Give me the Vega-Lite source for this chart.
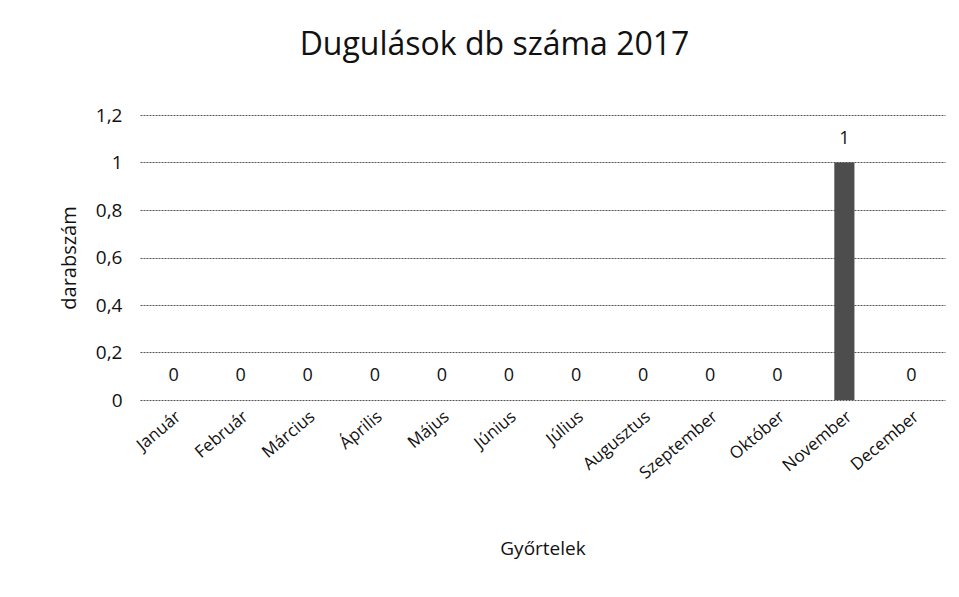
{
  "$schema": "https://vega.github.io/schema/vega-lite/v6.json",
  "autosize": "none",
  "width": 805,
  "height": 285,
  "padding": {"left": 140, "top": 115, "right": 14, "bottom": 197},
  "background": "white",
  "title": {"text": "Dugulások db száma 2017", "fontSize": 32, "font": "Open Sans", "fontWeight": "normal", "color": "#111", "offset": 44, "anchor": "middle", "dx": -48},
  "data": {"values": [
    {"honap": "Január", "db": 0},
    {"honap": "Február", "db": 0},
    {"honap": "Március", "db": 0},
    {"honap": "Április", "db": 0},
    {"honap": "Május", "db": 0},
    {"honap": "Június", "db": 0},
    {"honap": "Július", "db": 0},
    {"honap": "Augusztus", "db": 0},
    {"honap": "Szeptember", "db": 0},
    {"honap": "Október", "db": 0},
    {"honap": "November", "db": 1},
    {"honap": "December", "db": 0}
  ]},
  "encoding": {
    "x": {"field": "honap", "type": "nominal", "sort": null, "title": "Győrtelek",
      "scale": {"paddingInner": 0.7, "paddingOuter": 0.35},
      "axis": {"labelAngle": -40, "labelFontSize": 17, "labelFont": "Open Sans", "labelColor": "#111", "ticks": false, "domain": false, "labelPadding": 8, "titleFontSize": 19, "titleFont": "Open Sans", "titleFontWeight": "normal", "titleColor": "#111", "titlePadding": 58}},
    "y": {"field": "db", "type": "quantitative", "title": "darabszám",
      "scale": {"domain": [0, 1.2]},
      "axis": {"values": [0, 0.2, 0.4, 0.6, 0.8, 1, 1.2], "labelExpr": "replace(format(datum.value, '~g'), '.', ',')", "labelFontSize": 19, "labelFont": "Open Sans", "labelColor": "#111", "ticks": false, "domain": false, "labelPadding": 18, "grid": true, "gridColor": "#555", "gridWidth": 1, "gridDash": [2, 1], "titleFontSize": 20, "titleFont": "Open Sans", "titleFontWeight": "normal", "titleColor": "#111", "titlePadding": 16}}
  },
  "layer": [
    {"mark": {"type": "bar", "color": "#4d4d4d"}},
    {"mark": {"type": "text", "dy": -24, "fontSize": 18, "font": "Open Sans", "color": "#111"}, "encoding": {"text": {"field": "db", "type": "quantitative"}}}
  ],
  "config": {"view": {"stroke": null}}
}
